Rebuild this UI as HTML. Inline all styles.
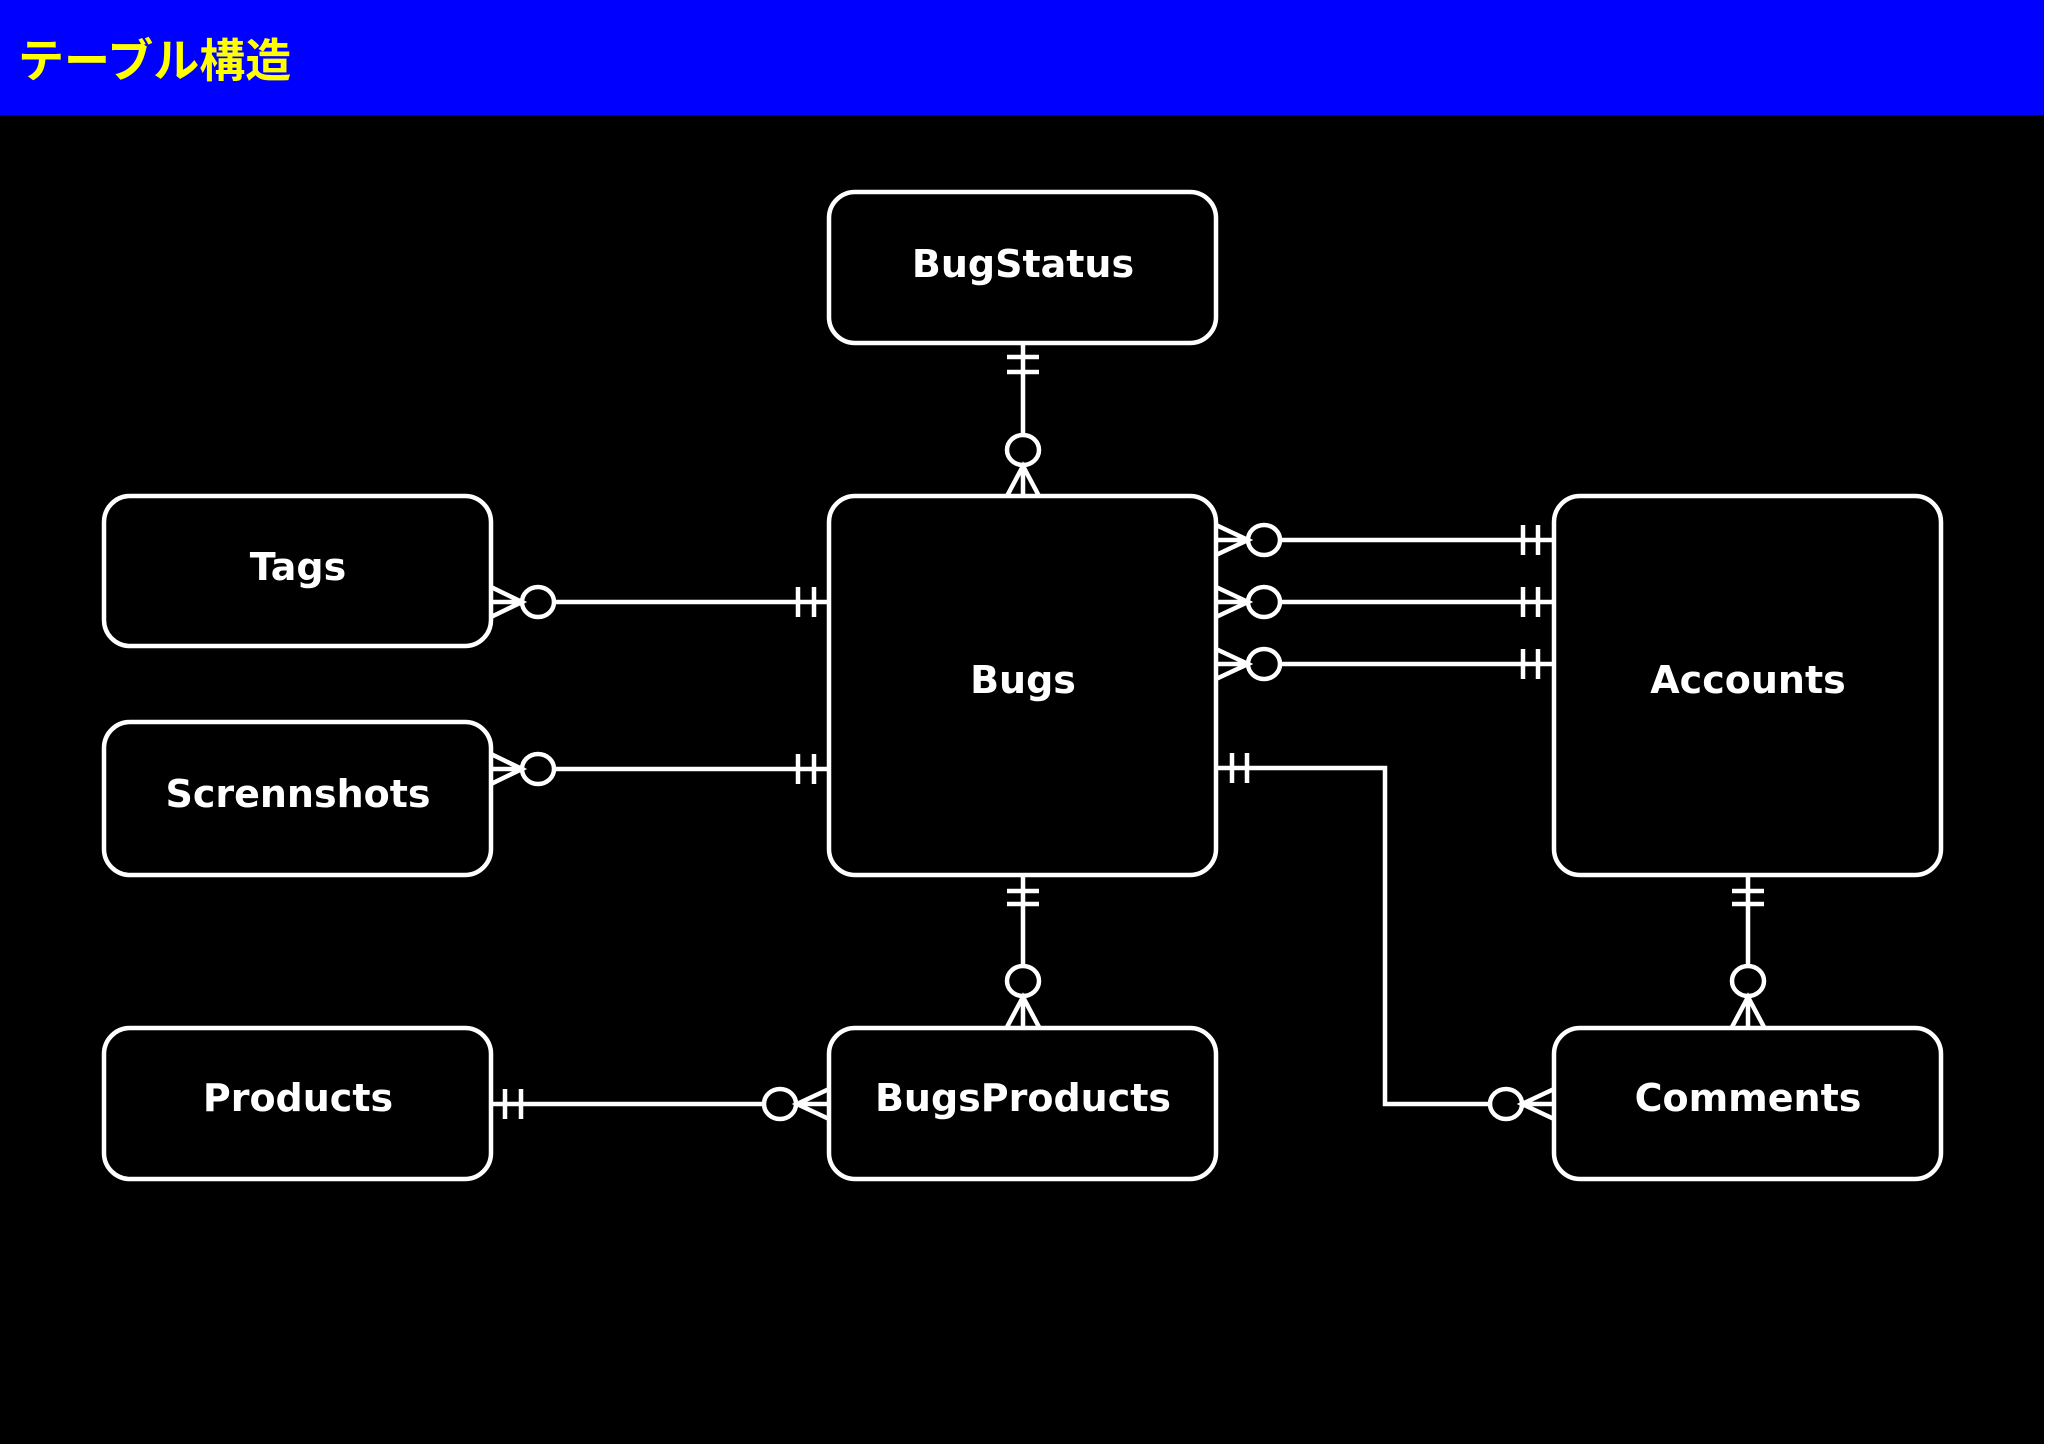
<!DOCTYPE html>
<html><head><meta charset="utf-8"><style>
html,body{margin:0;padding:0;background:#fff;width:2048px;height:1448px;overflow:hidden}
svg{display:block}
</style></head><body>
<svg width="2048" height="1448" viewBox="0 0 2048 1448" xmlns="http://www.w3.org/2000/svg">
<rect x="0" y="0" width="2044" height="1444" fill="#000"/>
<rect x="0" y="0" width="2044" height="115" fill="#0000ff"/>
<text x="18" y="77" font-family="'Liberation Sans','Noto Sans CJK JP',sans-serif" font-weight="bold" font-size="46" fill="#ffff00">テーブル構造</text>
<g fill="none" stroke="#fff" stroke-width="4.5">
<rect x="829" y="192" width="387" height="151" rx="26"/>
<rect x="104" y="496" width="387" height="150" rx="26"/>
<rect x="829" y="496" width="387" height="379" rx="26"/>
<rect x="1554" y="496" width="387" height="379" rx="26"/>
<rect x="104" y="722" width="387" height="153" rx="26"/>
<rect x="104" y="1028" width="387" height="151" rx="26"/>
<rect x="829" y="1028" width="387" height="151" rx="26"/>
<rect x="1554" y="1028" width="387" height="151" rx="26"/>

<line x1="1023" y1="343" x2="1023" y2="434"/>
<line x1="1007" y1="357" x2="1039" y2="357"/><line x1="1007" y1="372" x2="1039" y2="372"/>
<ellipse cx="1023" cy="450" rx="16" ry="15"/>
<path d="M1007 496 L1023 466 L1039 496 M1023 466 L1023 496"/>

<line x1="1023" y1="875" x2="1023" y2="966"/>
<line x1="1007" y1="891" x2="1039" y2="891"/><line x1="1007" y1="904" x2="1039" y2="904"/>
<ellipse cx="1023" cy="981" rx="16" ry="15"/>
<path d="M1007 1027 L1023 997 L1039 1027 M1023 997 L1023 1027"/>

<line x1="1748" y1="875" x2="1748" y2="966"/>
<line x1="1732" y1="891" x2="1764" y2="891"/><line x1="1732" y1="904" x2="1764" y2="904"/>
<ellipse cx="1748" cy="981" rx="16" ry="15"/>
<path d="M1732 1027 L1748 997 L1764 1027 M1748 997 L1748 1027"/>

<line x1="554" y1="602" x2="829" y2="602"/>
<line x1="798" y1="587" x2="798" y2="617"/><line x1="814" y1="587" x2="814" y2="617"/>
<ellipse cx="538" cy="602" rx="16" ry="15"/>
<path d="M491 587 L522 602 L491 617 M491 602 L522 602"/>

<line x1="554" y1="769" x2="829" y2="769"/>
<line x1="798" y1="754" x2="798" y2="784"/><line x1="814" y1="754" x2="814" y2="784"/>
<ellipse cx="538" cy="769" rx="16" ry="15"/>
<path d="M491 754 L522 769 L491 784 M491 769 L522 769"/>

<line x1="1280" y1="540" x2="1554" y2="540"/>
<line x1="1523" y1="525" x2="1523" y2="555"/><line x1="1538" y1="525" x2="1538" y2="555"/>
<ellipse cx="1264" cy="540" rx="16" ry="15"/>
<path d="M1216 525 L1248 540 L1216 555 M1216 540 L1248 540"/>

<line x1="1280" y1="602" x2="1554" y2="602"/>
<line x1="1523" y1="587" x2="1523" y2="617"/><line x1="1538" y1="587" x2="1538" y2="617"/>
<ellipse cx="1264" cy="602" rx="16" ry="15"/>
<path d="M1216 587 L1248 602 L1216 617 M1216 602 L1248 602"/>

<line x1="1280" y1="664" x2="1554" y2="664"/>
<line x1="1523" y1="649" x2="1523" y2="679"/><line x1="1538" y1="649" x2="1538" y2="679"/>
<ellipse cx="1264" cy="664" rx="16" ry="15"/>
<path d="M1216 649 L1248 664 L1216 679 M1216 664 L1248 664"/>

<polyline points="1216,768 1385,768 1385,1104 1490,1104"/>
<line x1="1232" y1="753" x2="1232" y2="783"/><line x1="1247" y1="753" x2="1247" y2="783"/>
<ellipse cx="1506" cy="1104" rx="16" ry="15"/>
<path d="M1554 1089 L1522 1104 L1554 1119 M1554 1104 L1522 1104"/>

<line x1="491" y1="1104" x2="764" y2="1104"/>
<line x1="505" y1="1089" x2="505" y2="1119"/><line x1="521" y1="1089" x2="521" y2="1119"/>
<ellipse cx="780" cy="1104" rx="16" ry="15"/>
<path d="M829 1089 L797 1104 L829 1119 M829 1104 L797 1104"/>
</g>
<g font-family="'DejaVu Sans',Verdana,sans-serif" font-weight="bold" font-size="38" fill="#fff" text-anchor="middle" dominant-baseline="central">
<text x="1023" y="264">BugStatus</text>
<text x="298" y="567">Tags</text>
<text x="1023" y="680">Bugs</text>
<text x="1748" y="680">Accounts</text>
<text x="298" y="794">Scrennshots</text>
<text x="298" y="1098">Products</text>
<text x="1023" y="1098">BugsProducts</text>
<text x="1748" y="1098">Comments</text>
</g>
</svg>
</body></html>
